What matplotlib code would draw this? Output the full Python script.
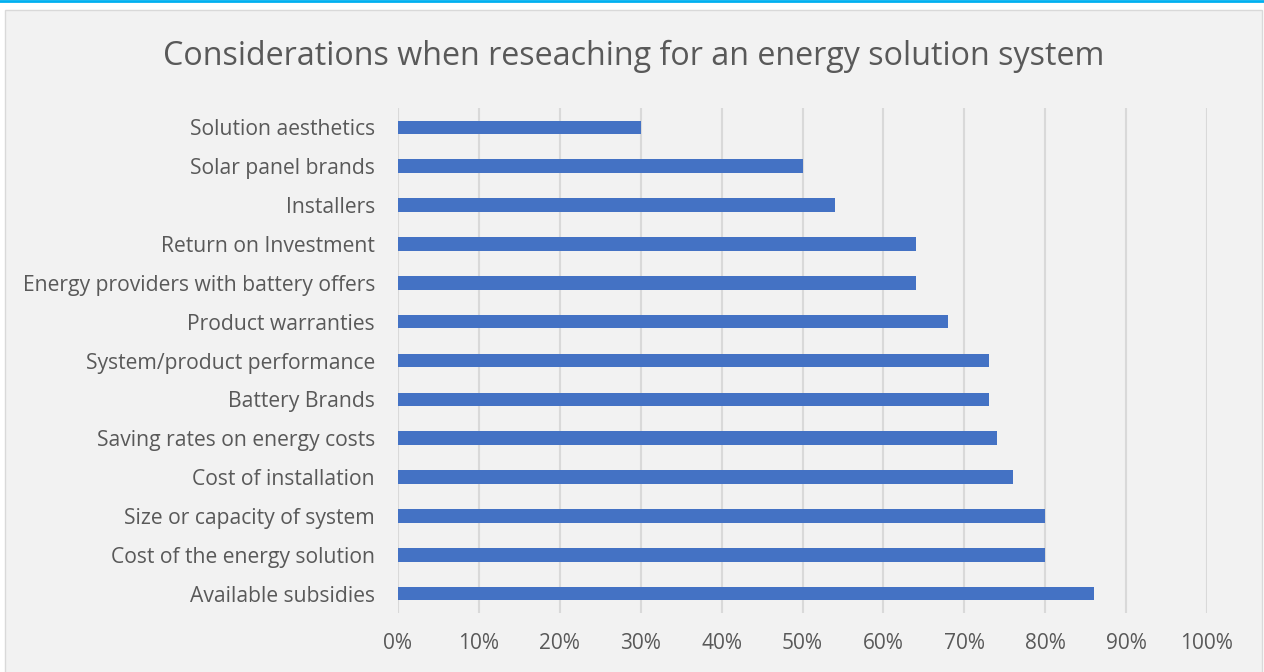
import matplotlib.pyplot as plt
from matplotlib.patches import Rectangle
from matplotlib.lines import Line2D
from matplotlib.ticker import FuncFormatter

categories = [
    "Solution aesthetics",
    "Solar panel brands",
    "Installers",
    "Return on Investment",
    "Energy providers with battery offers",
    "Product warranties",
    "System/product performance",
    "Battery Brands",
    "Saving rates on energy costs",
    "Cost of installation",
    "Size or capacity of system",
    "Cost of the energy solution",
    "Available subsidies",
]
shares = [0.30, 0.50, 0.54, 0.64, 0.64, 0.68, 0.73, 0.73, 0.74, 0.76, 0.80, 0.80, 0.86]
x_ticks = [i / 10 for i in range(11)]

text_color = "#595959"
bar_color = "#4472C4"
grid_color = "#D9D9D9"

plt.rcParams["font.family"] = ["Open Sans", "DejaVu Sans"]

W, H = 1264, 672
fig = plt.figure(figsize=(W / 100, H / 100), dpi=100, facecolor="white")

# chart frame and the accent line above it
fig.patches.append(Rectangle((5 / W, -0.1), 1257 / W, 1.1 - 10 / H,
                             transform=fig.transFigure, facecolor="#F2F2F2",
                             edgecolor="#D9D9D9", linewidth=1.0, zorder=-1))
fig.lines.append(Line2D([0, 1], [1 - 1 / H, 1 - 1 / H], transform=fig.transFigure,
                        color="#00B0F0", linewidth=2.0))

ax = fig.add_axes([398 / W, 1 - 613 / H, (1207 - 398) / W, (613 - 108) / H])
ax.set_zorder(2)
ax.set_facecolor("none")

ypos = list(range(len(categories)))
ax.barh(ypos, shares, height=0.35, color=bar_color, zorder=3)
ax.set_ylim(len(categories) - 0.5, -0.5)
ax.set_xlim(0, 1)
ax.set_yticks(ypos)
ax.set_yticklabels(categories, fontsize=15.2, color=text_color)
ax.set_xticks(x_ticks)
ax.xaxis.set_major_formatter(FuncFormatter(lambda v, p: f"{v * 100:.0f}%"))
ax.tick_params(axis="x", labelsize=15, colors=text_color, length=0, pad=14.5)
ax.tick_params(axis="y", length=0, pad=16.5)
ax.grid(axis="x", color=grid_color, linewidth=1.5, zorder=0)
for s in ax.spines.values():
    s.set_visible(False)

fig.text(634 / W, 1 - 56 / H, "Considerations when reseaching for an energy solution system",
         ha="center", va="center", fontsize=23.2, color=text_color)

fig.savefig("out.png", dpi=100, facecolor="white")
